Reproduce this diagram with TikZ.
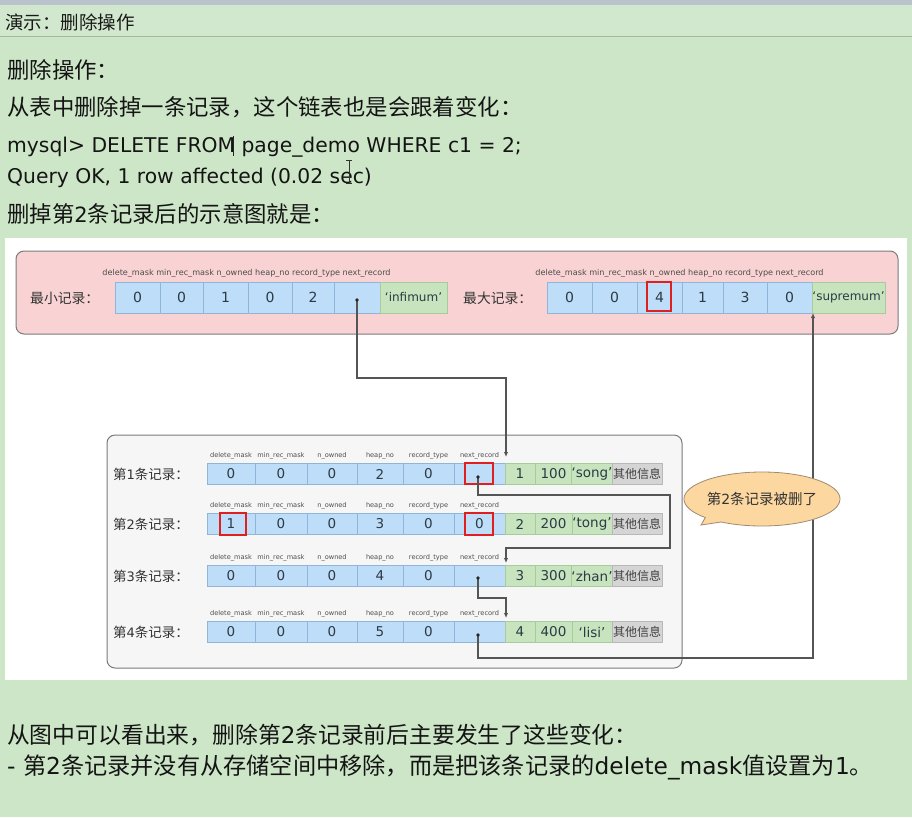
\documentclass[tikz,border=0pt]{standalone}
\usepackage{fontspec}
\setmainfont{DejaVu Sans}
\newfontfamily\cjk{Noto Sans CJK SC}
\usetikzlibrary{arrows.meta,shapes.callouts}
\definecolor{bggreen}{HTML}{CDE6C8}
\definecolor{titlegreen}{HTML}{D2E8CE}
\definecolor{topband}{HTML}{B9C3CB}
\definecolor{sepline}{HTML}{A3B9A0}
\definecolor{pinkbg}{HTML}{F9D3D3}
\definecolor{cellblue}{HTML}{BEDDF8}
\definecolor{cellline}{HTML}{8FB6D8}
\definecolor{cellgreen}{HTML}{C8E4BF}
\definecolor{greenline}{HTML}{A6CC9C}
\definecolor{cellgray}{HTML}{D5D5D5}
\definecolor{grayline}{HTML}{B8B8B8}
\definecolor{boxgray}{HTML}{F6F6F6}
\definecolor{frameC}{HTML}{7A7A7A}
\definecolor{wireC}{HTML}{555555}
\definecolor{peach}{HTML}{FCD7A0}
\definecolor{peachline}{HTML}{A08A70}
\definecolor{markred}{HTML}{E02020}
\definecolor{valC}{HTML}{2B3A44}
\newcommand\myfs[1]{\fontsize{#1}{#1}\selectfont}
\begin{document}
\begin{tikzpicture}[x=1pt,y=-1pt,
  bodyl/.style={anchor=base west,inner sep=0,font=\myfs{20.3},text=black!92},
  bodyc/.style={anchor=west,inner sep=0,font=\cjk\myfs{22.4},text=black!92},
  bcell/.style={draw=cellline,fill=cellblue,inner sep=0,line width=0.6pt,text=valC},
  gcell/.style={draw=greenline,fill=cellgreen,inner sep=0,line width=0.6pt,text=valC},
  grcell/.style={draw=grayline,fill=cellgray,inner sep=0,line width=0.6pt,text=black!75},
  flabel/.style={inner sep=0,text=black!70},
  rowlab/.style={anchor=west,inner sep=0,text=black!80},
  frame/.style={draw=frameC,line width=1pt,rounded corners=8pt,inner sep=0},
  wire/.style={draw=wireC,line width=1.1pt},
  arr/.style={wire,-{Latex[length=5pt,width=4.5pt]}},
  redmark/.style={draw=markred,line width=1.5pt,inner sep=0},
  dotc/.style={fill=black!85}]
\useasboundingbox (0,0) rectangle (912,817);
% backgrounds
\fill[bggreen] (0,0) rectangle (912,817);
\fill[topband] (0,0) rectangle (912,5);
\fill[titlegreen] (0,5) rectangle (912,36);
\draw[sepline,line width=1.5pt] (0,36.5) -- (912,36.5);
\fill[white] (5,238) rectangle (907,680);
% title and text
\node[anchor=west,inner sep=0,font=\cjk\myfs{18.5},text=black!90] (title) at (5,22) {演示：删除操作};
\node[bodyc] (l1) at (7,70) {删除操作：};
\node[bodyc] (l2) at (7,107) {从表中删除掉一条记录，这个链表也是会跟着变化：};
\node[bodyl] (l3) at (7,152) {mysql> DELETE FROM page\_demo WHERE c1 = 2;};
\node[bodyl] (l4) at (7,183) {Query OK, 1 row affected (0.02 sec)};
\node[bodyc] (l5) at (7,214) {删掉第{\rmfamily\myfs{21}2}条记录后的示意图就是：};
\draw[black!85,line width=1pt] (233,136) -- (233,156);
\draw[black!80,line width=0.9pt] (349,160) -- (349,183) (346,160) -- (352,160) (346,183) -- (352,183);
% boxes
\node[frame,fill=pinkbg,minimum width=882pt,minimum height=83pt] (pinkbox) at (457,292.5) {};
\node[frame,fill=boxgray,minimum width=575pt,minimum height=233pt] (recbox) at (394.5,551.5) {};
% min record
\node[rowlab,font=\cjk\myfs{13.8}] (minlabel) at (30,298) {最小记录：};
\node[flabel,font=\myfs{8.1}] (minf) at (246.5,273) {delete\_mask min\_rec\_mask n\_owned heap\_no record\_type next\_record};
\foreach \a/\b/\v [count=\i] in {115/160/0,160/203/0,203/248/1,248/292/0,292/334/2,334/380/{}}
  \node[bcell,minimum width={\b pt-\a pt},minimum height=31pt,font=\myfs{14}] (mn\i) at ({(\a+\b)/2},297.5) {\v};
\node[gcell,minimum width=67pt,minimum height=31pt,font=\myfs{12}] (mninf) at (413.5,297.5) {`infimum'};
% max record
\node[rowlab,font=\cjk\myfs{13.8}] (maxlabel) at (463,298) {最大记录：};
\node[flabel,font=\myfs{8.1}] (maxf) at (679.5,273) {delete\_mask min\_rec\_mask n\_owned heap\_no record\_type next\_record};
\foreach \a/\b/\v [count=\i] in {547/592/0,592/637/0,637/682/4,682/723/1,723/767/3,767/812/0}
  \node[bcell,minimum width={\b pt-\a pt},minimum height=31pt,font=\myfs{14}] (mx\i) at ({(\a+\b)/2},297.5) {\v};
\node[gcell,minimum width=73pt,minimum height=31pt,font=\myfs{12}] (mxsup) at (848.5,297.5) {`supremum'};
\node[redmark,minimum width=24pt,minimum height=29pt] (red0) at (659,296.5) {};
% records
\foreach \r/\y/\la/\lb/\lc/\ld/\le/\lf/\ga/\gb/\gc in {1/474/0/0/0/2/0/{}/1/100/song,2/524/1/0/0/3/0/0/2/200/tong,3/576/0/0/0/4/0/{}/3/300/zhan,4/632/0/0/0/5/0/{}/4/400/lisi}{
  \node[rowlab,font=\cjk\myfs{13.5}] (rl\r) at (113,\y) {第{\rmfamily\myfs{13}\r}条记录：};
  \foreach \cx/\t in {231/delete\_mask,281/min\_rec\_mask,332/n\_owned,380/heap\_no,428.5/record\_type,479.5/next\_record}
    \node[flabel,font=\myfs{6.6}] at (\cx,\y-18) {\t};
  \foreach \a/\b/\v [count=\i] in {207/255/\la,255/307/\lb,307/357/\lc,357/403/\ld,403/454/\le,454/505/\lf}
    \node[bcell,minimum width={\b pt-\a pt},minimum height=21pt,font=\myfs{13.5}] (r\r c\i) at ({(\a+\b)/2},\y) {\v};
  \node[gcell,minimum width=30pt,minimum height=21pt,font=\myfs{13.5}] (r\r g1) at (520,\y) {\ga};
  \node[gcell,minimum width=37pt,minimum height=21pt,font=\myfs{13.5}] (r\r g2) at (553.5,\y) {\gb};
  \node[gcell,minimum width=40pt,minimum height=21pt,font=\myfs{13.5}] (r\r g3) at (592,\y) {`\gc'};
  \node[grcell,minimum width=50pt,minimum height=21pt,font=\cjk\myfs{12}] (r\r o) at (637,\y) {其他信息};
}
\node[redmark,minimum width=28pt,minimum height=21pt] (red1) at (479,473.5) {};
\node[redmark,minimum width=28pt,minimum height=22pt] (red2) at (479,524) {};
\node[redmark,minimum width=26pt,minimum height=22pt] (red3) at (233,524) {};
% pointers
\coordinate (dmin) at (357,300);
\coordinate (d1) at (478,477);
\coordinate (d3) at (478,578);
\coordinate (d4) at (478,635);
\coordinate (t1) at (506,457);
\coordinate (t3) at (506,563);
\coordinate (t4) at (506,618);
\coordinate (tsup) at (813,313);
\draw[arr] (dmin) -- ++(0,78) -| (t1);
\draw[arr] (d1) -- ++(0,18) -- ++(192,0) -- ++(0,53) -| (t3);
\draw[arr] (d3) -- ++(0,20) -| (t4);
\draw[arr] (d4) -- ++(0,23) -| (tsup);
\foreach \d in {dmin,d1,d3,d4} \fill[dotc] (\d) circle (1.9pt);
% callout
\coordinate (ptr) at (701,525);
\node[ellipse callout,draw=peachline,fill=peach,line width=0.8pt,minimum width=124pt,minimum height=54pt,inner sep=0,
  callout absolute pointer={(ptr)},font=\cjk\myfs{14.5},text=black!80] (note) at (762,499) {第{\rmfamily\myfs{14}2}条记录被删了};
% bottom text
\node[anchor=west,inner sep=0,font=\cjk\myfs{22.8},text=black!92] (b1) at (7,735) {从图中可以看出来，删除第{\rmfamily\myfs{23}2}条记录前后主要发生了这些变化：};
\node[anchor=west,inner sep=0,font=\cjk\myfs{23.2},text=black!92] (b2) at (7,767) {{\rmfamily\myfs{23.3}- }第{\rmfamily\myfs{23.3}2}条记录并没有从存储空间中移除，而是把该条记录的{\rmfamily\myfs{23.3}delete\_mask}值设置为{\rmfamily\myfs{23.3}1}。};
\end{tikzpicture}
\end{document}
